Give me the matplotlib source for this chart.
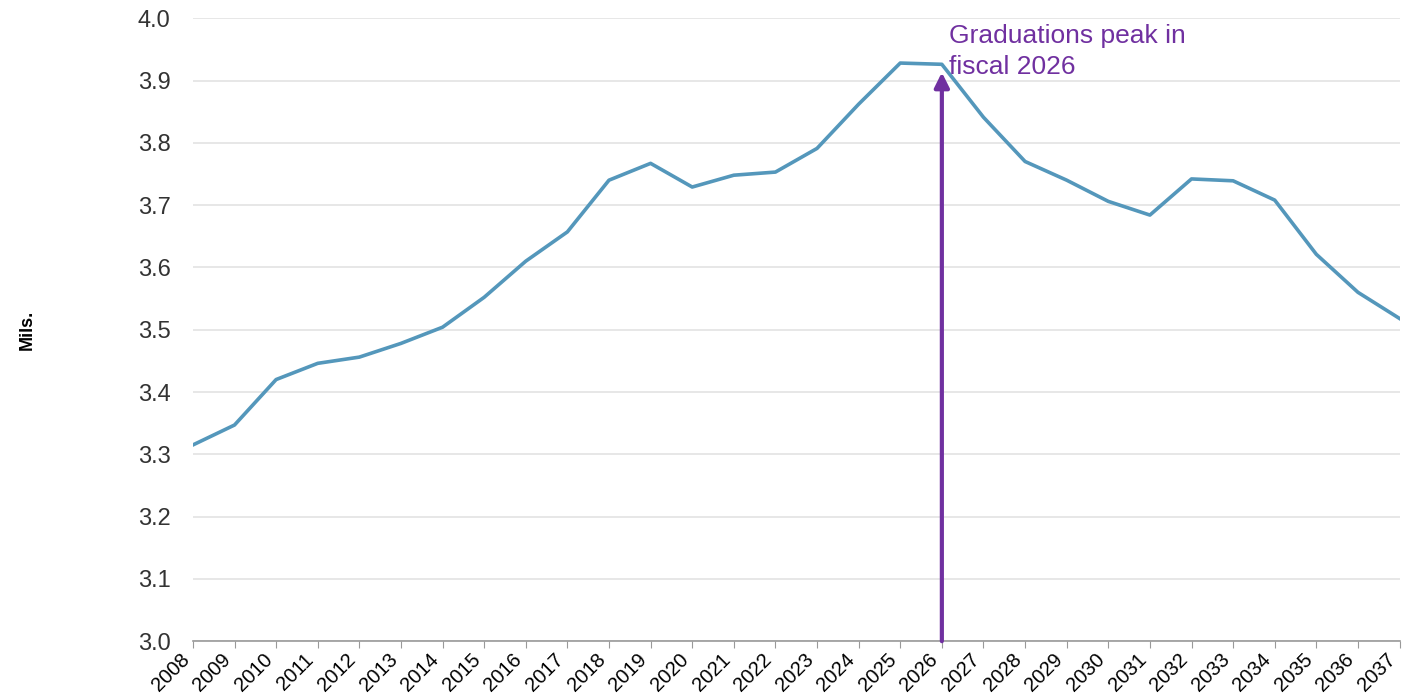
import matplotlib
matplotlib.use("Agg")
import matplotlib.pyplot as plt

plt.rcParams['font.family'] = ['Liberation Sans', 'DejaVu Sans']

# fiscal years and graduations (millions)
years = list(range(2008, 2038))
grads = [3.315, 3.347, 3.420, 3.446, 3.456, 3.478, 3.504, 3.552, 3.610, 3.657,
         3.740, 3.767, 3.729, 3.748, 3.753, 3.791, 3.862, 3.928, 3.926, 3.841,
         3.770, 3.740, 3.706, 3.684, 3.742, 3.739, 3.708, 3.621, 3.560, 3.518]
yticks = [3.0, 3.1, 3.2, 3.3, 3.4, 3.5, 3.6, 3.7, 3.8, 3.9, 4.0]
peak_year = 2026
note = "Graduations peak in\nfiscal 2026"

fig = plt.figure(figsize=(14.08, 7.0), dpi=100)
ax = fig.add_axes([0.137, 0.084, 0.857, 0.890])

ax.plot(years, grads, color='#5497bb', lw=2.6, zorder=3)

ax.set_xlim(years[0], years[-1])
ax.set_ylim(3.0, 4.0)
ax.set_yticks(yticks)
ax.set_yticklabels([f"{v:.1f}" for v in yticks])
ax.set_xticks(years)
# right edge of each rotated label sits on its tick
ax.set_xticklabels([str(y) for y in years], rotation=45, ha='right',
                   fontsize=14.5)
ax.tick_params(axis='y', length=0, labelsize=17, pad=16, labelcolor='#333333')
ax.tick_params(axis='x', length=5, color='#999999', pad=1)

ax.grid(axis='y', color='#e3e3e3', lw=1.2)
ax.set_axisbelow(True)
for s in ['top', 'right', 'left']:
    ax.spines[s].set_visible(False)
ax.spines['bottom'].set_color('#999999')
ax.spines['bottom'].set_linewidth(1.2)

ax.set_ylabel("Mils.", fontweight='bold', fontsize=13)
ax.yaxis.set_label_coords(-0.13, 0.5)

# arrow pointing at the peak
ax.annotate("", xy=(peak_year, 3.913), xytext=(peak_year, 3.0),
            arrowprops=dict(arrowstyle='-|>', color='#7030a0', lw=3,
                            mutation_scale=22, shrinkA=0, shrinkB=0),
            zorder=4)
ax.text(peak_year + 0.18, 3.99, note, color='#7030a0', fontsize=19,
        va='top', ha='left', linespacing=1.35)

fig.savefig("out.png", dpi=100)
